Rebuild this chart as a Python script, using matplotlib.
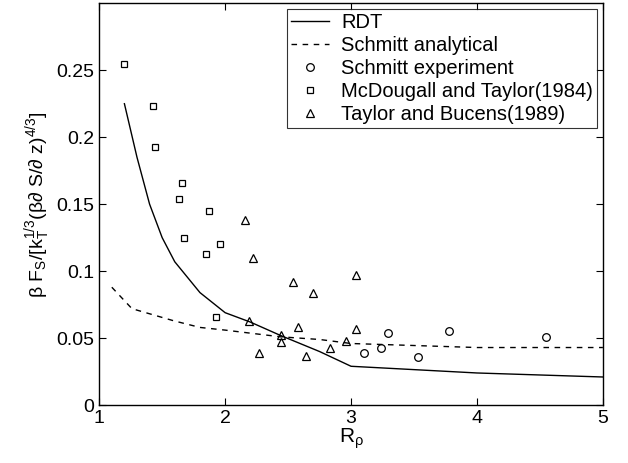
import numpy as np
import matplotlib
matplotlib.use("Agg")
import matplotlib.pyplot as plt

plt.rcParams["font.family"] = ["Liberation Sans", "DejaVu Sans"]
plt.rcParams["mathtext.fontset"] = "custom"
plt.rcParams["mathtext.rm"] = "Liberation Sans"
plt.rcParams["mathtext.it"] = "Liberation Sans"
plt.rcParams["mathtext.bf"] = "Liberation Sans:bold"

# RDT model curve
rdt_x = [1.2, 1.3, 1.4, 1.5, 1.6, 1.8, 2.0, 2.2, 2.44, 2.75, 3.0, 4.0, 5.0]
rdt_y = [0.225, 0.185, 0.150, 0.125, 0.107, 0.084, 0.069, 0.062, 0.052, 0.040, 0.029, 0.024, 0.021]

# Schmitt analytical curve
sa_x = [1.1, 1.26, 1.59, 1.8, 2.0, 2.44, 2.75, 3.0, 4.0, 5.0]
sa_y = [0.088, 0.072, 0.063, 0.058, 0.056, 0.051, 0.049, 0.046, 0.043, 0.043]

# Schmitt experiment
se_x = [3.10, 3.24, 3.29, 3.53, 3.78, 4.55]
se_y = [0.039, 0.043, 0.054, 0.036, 0.055, 0.051]

# McDougall and Taylor (1984)
mt_x = [1.20, 1.43, 1.44, 1.66, 1.63, 1.87, 1.67, 1.85, 1.96, 1.93]
mt_y = [0.255, 0.223, 0.193, 0.166, 0.154, 0.145, 0.125, 0.113, 0.120, 0.066]

# Taylor and Bucens (1989)
tb_x = [2.16, 2.22, 2.54, 2.70, 2.19, 2.58, 2.44, 2.44, 2.27, 2.64, 3.04, 3.04, 2.96, 2.83]
tb_y = [0.138, 0.110, 0.092, 0.084, 0.063, 0.058, 0.052, 0.047, 0.039, 0.037, 0.097, 0.057, 0.048, 0.043]

fig = plt.figure(figsize=(6.28, 4.63), dpi=100)
ax = fig.add_axes([0.158, 0.125, 0.802, 0.868])

ax.plot(rdt_x, rdt_y, "k-", lw=1.0, label="RDT")
ax.plot(sa_x, sa_y, "k--", lw=1.0, dashes=(4, 4), label="Schmitt analytical")
ax.plot(se_x, se_y, "ko", ms=5.5, mfc="none", mew=0.9, ls="none", label="Schmitt experiment")
ax.plot(mt_x, mt_y, "ks", ms=5, mfc="none", mew=0.9, ls="none", label="McDougall and Taylor(1984)")
ax.plot(tb_x, tb_y, "k^", ms=5.5, mfc="none", mew=0.9, ls="none", label="Taylor and Bucens(1989)")

ax.set_xlim(1, 5)
ax.set_ylim(0, 0.3)
ax.set_xticks([1, 2, 3, 4, 5])
ax.set_yticks([0, 0.05, 0.1, 0.15, 0.2, 0.25])
ax.set_xticklabels(["1", "2", "3", "4", "5"])
ax.set_yticklabels(["0", "0.05", "0.1", "0.15", "0.2", "0.25"])
ax.tick_params(direction="in", top=True, right=True, labelsize=14, length=5, width=0.8)
for s in ax.spines.values():
    s.set_linewidth(1.0)

ax.set_xlabel(r"$\mathrm{R_{\rho}}$", fontsize=15, labelpad=0)
ax.set_ylabel(r"$\mathrm{\beta\ F_S/[k_T^{1/3}(\beta\partial\ S/\partial\ z)^{4/3}]}$", fontsize=14, labelpad=3)

leg = ax.legend(loc="upper right", fontsize=14.5, frameon=True, fancybox=False,
                edgecolor="k", borderpad=0.2, labelspacing=0.2, handlelength=1.9,
                handletextpad=0.6, borderaxespad=0.3)
leg.get_frame().set_linewidth(0.8)

fig.savefig("out.png", dpi=100)
